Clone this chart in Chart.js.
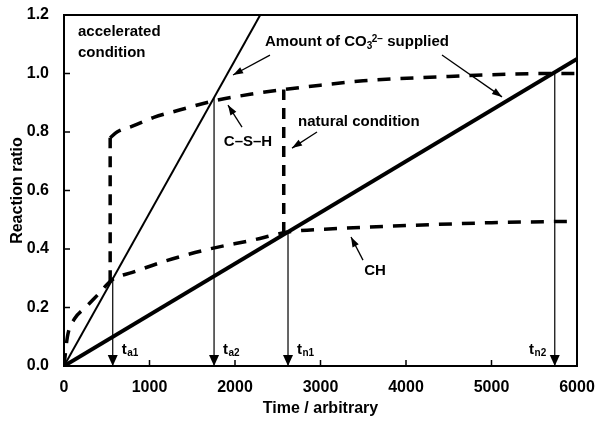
<!DOCTYPE html>
<html>
<head>
<meta charset="utf-8">
<script src="https://cdn.jsdelivr.net/npm/chart.js@4.4.0/dist/chart.umd.min.js"></script>
<style>
  html, body { margin: 0; padding: 0; background: #fff; }
</style>
</head>
<body>
<canvas id="myChart" width="595" height="422"></canvas>
<script>
const xTicks = [0, 1000, 2000, 3000, 4000, 5000, 6000];
const yTicks = [0, 0.2, 0.4, 0.6, 0.8, 1.0, 1.2];

// amount of CO3 2- supplied
const accSupplyT = [0, 2295];
const accSupplyR = [0, 1.2];
const natSupplyT = [0, 6000];
const natSupplyR = [0, 1.05];

// CH
const chT = [0, 40, 120, 250, 400, 565, 800, 1200, 1700, 2200, 2620, 3200, 4000, 5000, 6000];
const chR = [0, 0.10, 0.16, 0.20, 0.245, 0.295, 0.32, 0.36, 0.40, 0.43, 0.458, 0.47, 0.48, 0.49, 0.495];

// C-S-H
const cshT = [540, 620, 800, 1050, 1350, 1730, 2200, 2570, 3000, 3500, 4500, 5700, 6000];
const cshR = [0.78, 0.80, 0.82, 0.85, 0.875, 0.905, 0.93, 0.945, 0.96, 0.975, 0.99, 1.0, 1.0];

// vertical jumps of C-S-H
const jumpT = [540, 2570];
const jumpFrom = [0.29, 0.455];
const jumpTo = [0.78, 0.945];

// t marks
const markT = [570, 1755, 2620, 5740];
const markTop = [0.30, 0.915, 0.46, 1.0];
const markSub = ["a1", "a2", "n1", "n2"];

const miGraf = document.querySelector("#myChart");
const FONT = '"Liberation Sans", Arial, sans-serif';

function pts(t, r) {
  return t.map((v, i) => ({ x: v, y: r[i] }));
}

function arrow(ctx, x1, y1, x2, y2) {
  const ang = Math.atan2(y2 - y1, x2 - x1);
  ctx.beginPath();
  ctx.moveTo(x1, y1);
  ctx.lineTo(x2, y2);
  ctx.stroke();
  ctx.beginPath();
  ctx.moveTo(x2, y2);
  ctx.lineTo(x2 - 10 * Math.cos(ang) + 3.5 * Math.sin(ang), y2 - 10 * Math.sin(ang) - 3.5 * Math.cos(ang));
  ctx.lineTo(x2 - 10 * Math.cos(ang) - 3.5 * Math.sin(ang), y2 - 10 * Math.sin(ang) + 3.5 * Math.cos(ang));
  ctx.closePath();
  ctx.fill();
}

const overlay = {
  id: "overlay",
  afterDatasetsDraw(chart) {
    const { ctx, chartArea: a, scales } = chart;
    const px = (t) => scales.x.getPixelForValue(t);
    const py = (r) => scales.y.getPixelForValue(r);
    ctx.save();
    ctx.strokeStyle = "#000";
    ctx.fillStyle = "#000";

    // frame
    ctx.lineWidth = 2;
    ctx.strokeRect(a.left, a.top, a.right - a.left, a.bottom - a.top);

    // inward ticks
    ctx.lineWidth = 1.5;
    ctx.beginPath();
    xTicks.forEach((t) => { ctx.moveTo(px(t), a.bottom); ctx.lineTo(px(t), a.bottom - 6); });
    yTicks.forEach((r) => { ctx.moveTo(a.left, py(r)); ctx.lineTo(a.left + 6, py(r)); });
    ctx.stroke();

    // arrowheads + t labels
    markT.forEach((t, i) => {
      const xx = px(t), yy = py(0);
      ctx.beginPath();
      ctx.moveTo(xx, yy);
      ctx.lineTo(xx - 5, yy - 11);
      ctx.lineTo(xx + 5, yy - 11);
      ctx.closePath();
      ctx.fill();
      ctx.textBaseline = "alphabetic";
      ctx.font = "bold 15px " + FONT;
      const tw = ctx.measureText("t").width;
      ctx.font = "bold 10px " + FONT;
      const sw = ctx.measureText(markSub[i]).width;
      const x0 = i === 3 ? xx - 9 - tw - sw : xx + 9;
      ctx.font = "bold 15px " + FONT;
      ctx.fillText("t", x0, yy - 12);
      ctx.font = "bold 10px " + FONT;
      ctx.fillText(markSub[i], x0 + tw + 0.5, yy - 10);
    });

    // texts
    ctx.font = "bold 15px " + FONT;
    ctx.textBaseline = "middle";
    ctx.textAlign = "left";
    ctx.fillText("accelerated", px(164), py(1.142));
    ctx.fillText("condition", px(164), py(1.07));
    ctx.fillText("natural condition", px(2737), py(0.834));
    ctx.textAlign = "center";
    ctx.fillText("C\u2013S\u2013H", px(2152), py(0.766));
    ctx.fillText("CH", px(3637), py(0.325));

    // Amount of CO3 2- supplied
    ctx.textAlign = "left";
    let xa = px(2351);
    const ya = py(1.108);
    ctx.fillText("Amount of CO", xa, ya);
    xa += ctx.measureText("Amount of CO").width;
    ctx.font = "bold 10px " + FONT;
    ctx.fillText("3", xa, ya + 4);
    ctx.fillText("2\u2212", xa + 5, ya - 3);
    xa += 5 + ctx.measureText("2\u2212").width;
    ctx.font = "bold 15px " + FONT;
    ctx.fillText(" supplied", xa, ya);

    // pointer arrows
    ctx.lineWidth = 1.3;
    arrow(ctx, px(2409), py(1.063), px(1977), py(0.995));
    arrow(ctx, px(4421), py(1.063), px(5123), py(0.92));
    arrow(ctx, px(2082), py(0.817), px(1918), py(0.892));
    arrow(ctx, px(2959), py(0.80), px(2667), py(0.745));
    arrow(ctx, px(3497), py(0.362), px(3357), py(0.441));

    ctx.restore();
  },
};

const base = { borderColor: "#000", pointRadius: 0, fill: false };
const dashed = { borderWidth: 3.5, borderDash: [13, 10], cubicInterpolationMode: "monotone" };

const datasets = [
  { ...base, data: pts(accSupplyT, accSupplyR), borderWidth: 2 },
  { ...base, data: pts(natSupplyT, natSupplyR), borderWidth: 4 },
  { ...base, ...dashed, data: pts(chT, chR) },
  { ...base, ...dashed, data: pts(cshT, cshR) },
];
jumpT.forEach((t, i) => {
  datasets.push({ ...base, borderWidth: 3.5, borderDash: [11, 8], data: pts([t, t], [jumpFrom[i], jumpTo[i]]) });
});
markT.forEach((t, i) => {
  datasets.push({ ...base, borderWidth: 1.2, data: pts([t, t], [markTop[i], 0]) });
});

const tickFont = { family: FONT, size: 16, weight: "bold" };

new Chart(miGraf, {
  type: "line",
  data: { datasets },
  options: {
    responsive: false,
    animation: false,
    layout: { padding: { left: 0, right: 18, top: 15, bottom: 0 } },
    plugins: { legend: { display: false }, tooltip: { enabled: false } },
    scales: {
      x: {
        type: "linear",
        min: 0,
        max: 6000,
        grid: { display: false },
        border: { display: false },
        afterBuildTicks: (s) => { s.ticks = xTicks.map((v) => ({ value: v })); },
        afterFit: (s) => { s.height = 56; s.paddingRight = 0; s.paddingLeft = 0; },
        ticks: { color: "#000", font: tickFont, padding: 4, maxRotation: 0, callback: (v) => String(v) },
        title: { display: true, text: "Time / arbitrary", color: "#000", font: tickFont, padding: { top: 4, bottom: 4 } },
      },
      y: {
        min: 0,
        max: 1.2,
        grid: { display: false },
        border: { display: false },
        afterBuildTicks: (s) => { s.ticks = yTicks.map((v) => ({ value: v })); },
        afterFit: (s) => { s.width = 64; s.paddingTop = 0; s.paddingBottom = 0; },
        ticks: { color: "#000", font: tickFont, padding: 7, callback: (v) => Number(v).toFixed(1) },
        title: { display: true, text: "Reaction ratio", color: "#000", font: tickFont, padding: { top: 8, bottom: 8 } },
      },
    },
  },
  plugins: [overlay],
});
</script>
</body>
</html>
